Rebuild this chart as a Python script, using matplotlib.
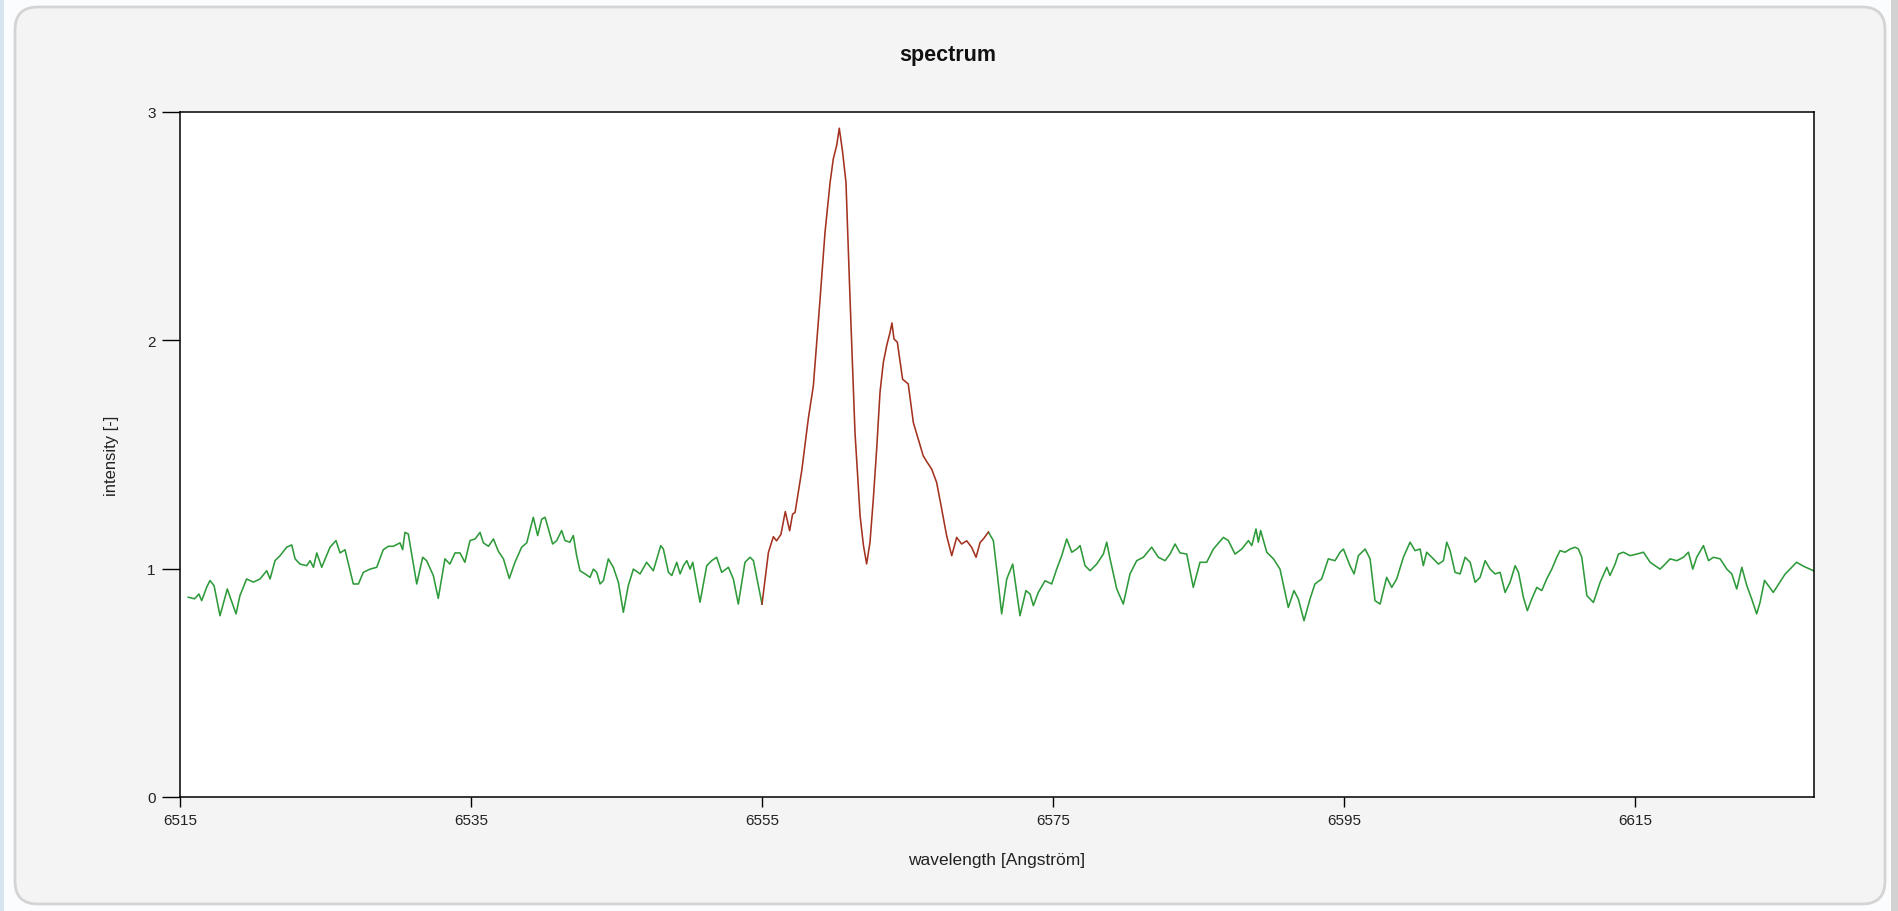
import matplotlib
matplotlib.use("Agg")
import matplotlib.pyplot as plt
from matplotlib.patches import FancyBboxPatch, Rectangle

plt.rcParams['font.family'] = ['Liberation Sans', 'DejaVu Sans']

# ---------------- data ----------------
title = "spectrum"
x_label = "wavelength [Angström]"
y_label = "intensity [-]"
x_ticks = [6515, 6535, 6555, 6575, 6595, 6615]
y_ticks = [0, 1, 2, 3]
x_range = (6515, 6627.3)
y_range = (0, 3)

# continuum (green) left of the emission line
green_left_wl = [6515.57, 6516.0, 6516.3, 6516.49, 6516.83, 6517.06, 6517.34, 6517.75, 6518.25, 6518.85,
                 6519.12, 6519.58, 6520.04, 6520.5, 6520.96, 6521.19, 6521.53, 6521.88, 6522.33, 6522.68,
                 6522.91, 6523.25, 6523.71, 6523.94, 6524.17, 6524.40, 6524.74, 6525.31, 6525.72, 6526.0,
                 6526.34, 6526.91, 6527.26, 6527.6, 6528.06, 6528.52, 6528.97, 6529.32, 6529.66, 6530.12,
                 6530.3, 6530.46, 6530.69, 6531.27, 6531.68, 6531.95, 6532.41, 6532.75, 6533.21, 6533.55,
                 6533.9, 6534.24, 6534.58, 6534.93, 6535.28, 6535.62, 6535.85, 6536.2, 6536.54, 6536.88,
                 6537.23, 6537.63, 6538.02, 6538.48, 6538.83, 6539.28, 6539.58, 6539.86, 6540.09, 6540.32,
                 6540.61, 6540.89, 6541.23, 6541.46, 6541.80, 6542.03, 6542.26, 6542.49, 6542.84, 6543.18,
                 6543.41, 6543.64, 6543.87, 6544.1, 6544.44, 6544.78, 6545.13, 6545.47, 6545.81, 6546.16,
                 6546.62, 6547.07, 6547.53, 6548.04, 6548.22, 6548.57, 6548.8, 6549.14, 6549.37, 6549.60,
                 6549.83, 6550.06, 6550.24, 6550.74, 6551.2, 6551.54, 6551.88, 6552.23, 6552.69, 6553.03,
                 6553.37, 6553.83, 6554.18, 6554.41, 6555.0]
green_left_int = [0.875, 0.868, 0.889, 0.860, 0.918, 0.948, 0.926, 0.794, 0.911, 0.802,
                  0.882, 0.955, 0.941, 0.955, 0.991, 0.955, 1.035, 1.057, 1.094, 1.104,
                  1.043, 1.020, 1.013, 1.035, 1.006, 1.069, 1.006, 1.094, 1.123, 1.069,
                  1.083, 0.933, 0.933, 0.984, 0.998, 1.006, 1.083, 1.098, 1.098, 1.113,
                  1.083, 1.159, 1.152, 0.933, 1.050, 1.035, 0.970, 0.870, 1.043, 1.020,
                  1.069, 1.069, 1.028, 1.123, 1.130, 1.159, 1.113, 1.098, 1.130, 1.076,
                  1.043, 0.957, 1.028, 1.094, 1.113, 1.225, 1.145, 1.217, 1.225, 1.174,
                  1.108, 1.123, 1.167, 1.123, 1.116, 1.145, 1.057, 0.991, 0.977, 0.962,
                  0.998, 0.984, 0.933, 0.948, 1.043, 1.006, 0.940, 0.809, 0.926, 0.998,
                  0.977, 1.028, 0.991, 1.101, 1.086, 0.984, 0.970, 1.028, 0.977, 1.013,
                  1.035, 0.998, 1.028, 0.853, 1.013, 1.035, 1.050, 0.984, 1.006, 0.955,
                  0.845, 1.028, 1.050, 1.035, 0.845]

# emission line (red)
red_wl = [6555.0, 6555.44, 6555.78, 6556.0, 6556.3, 6556.6, 6556.9, 6557.1, 6557.27, 6557.73,
          6558.18, 6558.53, 6558.99, 6559.33, 6559.68, 6559.9, 6560.13, 6560.31, 6560.54, 6560.77,
          6561.05, 6561.39, 6561.74, 6561.97, 6562.19, 6562.42, 6562.65, 6562.88, 6563.11, 6563.34,
          6563.57, 6563.8, 6563.93, 6564.07, 6564.3, 6564.66, 6565.05, 6565.4, 6565.74, 6566.08,
          6566.36, 6566.66, 6567.0, 6567.35, 6567.69, 6568.04, 6568.38, 6568.72, 6569.07, 6569.41,
          6569.71, 6569.99, 6570.21, 6570.56]
red_int = [0.845, 1.071, 1.140, 1.122, 1.150, 1.250, 1.166, 1.239, 1.246, 1.429,
           1.656, 1.802, 2.181, 2.473, 2.692, 2.795, 2.853, 2.929, 2.824, 2.692,
           2.181, 1.597, 1.232, 1.102, 1.021, 1.115, 1.305, 1.524, 1.773, 1.904,
           1.977, 2.035, 2.076, 2.006, 1.992, 1.830, 1.809, 1.640, 1.567, 1.494,
           1.465, 1.436, 1.378, 1.261, 1.144, 1.057, 1.137, 1.108, 1.122, 1.093,
           1.050, 1.115, 1.130, 1.160]

# continuum (green) right of the emission line
green_right_wl = [6570.56, 6570.9, 6571.18, 6571.47, 6571.82, 6572.23, 6572.73, 6573.14, 6573.42, 6573.65,
                  6573.99, 6574.45, 6574.91, 6575.25, 6575.6, 6575.94, 6576.29, 6576.63, 6576.86, 6577.2,
                  6577.55, 6578.0, 6578.46, 6578.69, 6578.92, 6579.38, 6579.83, 6580.29, 6580.75, 6581.21,
                  6581.78, 6582.24, 6582.7, 6583.04, 6583.39, 6583.73, 6584.19, 6584.64, 6585.1, 6585.56,
                  6586.02, 6586.71, 6587.05, 6587.51, 6587.97, 6588.43, 6588.66, 6588.95, 6589.11, 6589.27,
                  6589.69, 6590.15, 6590.6, 6591.17, 6591.56, 6591.86, 6592.25, 6592.66, 6593.0, 6593.46,
                  6593.92, 6594.38, 6594.73, 6594.96, 6595.41, 6595.69, 6595.99, 6596.45, 6596.79, 6597.13,
                  6597.48, 6597.93, 6598.28, 6598.62, 6599.08, 6599.54, 6599.88, 6600.23, 6600.45, 6600.68,
                  6601.03, 6601.49, 6601.83, 6602.06, 6602.29, 6602.63, 6602.98, 6603.32, 6603.67, 6604.01,
                  6604.35, 6604.7, 6605.04, 6605.38, 6605.73, 6606.07, 6606.41, 6606.76, 6606.99, 6607.33,
                  6607.6, 6607.9, 6608.25, 6608.59, 6608.93, 6609.28, 6609.62, 6609.85, 6610.19, 6610.54,
                  6610.88, 6611.11, 6611.34, 6611.69, 6612.14, 6612.6, 6613.06, 6613.28, 6613.63, 6613.86,
                  6614.2, 6614.66, 6615.12, 6615.58, 6616.04, 6616.38, 6616.72, 6617.07, 6617.41, 6617.87,
                  6618.33, 6618.67, 6618.97, 6619.24, 6619.7, 6620.05, 6620.39, 6620.85, 6621.31, 6621.65,
                  6621.99, 6622.34, 6622.68, 6623.02, 6623.36, 6623.59, 6623.9, 6624.5, 6625.3, 6626.1,
                  6626.6, 6627.3]
green_right_int = [1.160, 1.123, 0.970, 0.802, 0.955, 1.020, 0.794, 0.904, 0.889, 0.838,
                   0.896, 0.947, 0.933, 0.998, 1.057, 1.130, 1.072, 1.086, 1.101, 1.013,
                   0.991, 1.020, 1.064, 1.116, 1.043, 0.911, 0.845, 0.977, 1.035, 1.050,
                   1.094, 1.050, 1.035, 1.064, 1.108, 1.069, 1.064, 0.918, 1.028, 1.028,
                   1.086, 1.137, 1.123, 1.064, 1.086, 1.123, 1.101, 1.174, 1.116, 1.167,
                   1.072, 1.043, 0.998, 0.830, 0.904, 0.867, 0.772, 0.867, 0.933, 0.955,
                   1.043, 1.035, 1.072, 1.086, 1.013, 0.977, 1.057, 1.086, 1.043, 0.860,
                   0.845, 0.962, 0.918, 0.955, 1.050, 1.116, 1.079, 1.086, 1.013, 1.072,
                   1.050, 1.020, 1.035, 1.116, 1.079, 0.984, 0.977, 1.050, 1.028, 0.940,
                   0.962, 1.035, 0.998, 0.977, 0.984, 0.896, 0.940, 1.013, 0.984, 0.874,
                   0.816, 0.867, 0.918, 0.904, 0.955, 0.998, 1.050, 1.079, 1.072, 1.086,
                   1.094, 1.086, 1.050, 0.882, 0.852, 0.940, 1.006, 0.970, 1.020, 1.064,
                   1.072, 1.057, 1.064, 1.072, 1.028, 1.013, 0.998, 1.020, 1.043, 1.035,
                   1.050, 1.072, 0.998, 1.050, 1.101, 1.035, 1.050, 1.043, 0.998, 0.977,
                   0.911, 1.006, 0.926, 0.867, 0.802, 0.852, 0.949, 0.896, 0.975, 1.028,
                   1.010, 0.990]

# ---------------- figure ----------------
W, H = 1898, 912
fig = plt.figure(figsize=(W / 100, H / 100), dpi=100, facecolor='#fbfcfd')

# window chrome: left blue strip, rounded gray panel, right bar
fig.patches.append(Rectangle((0, 0), 4 / W, 1, transform=fig.transFigure,
                             facecolor='#d6e4f2', edgecolor='none', zorder=-2))
fig.patches.append(Rectangle((1891 / W, 0), 7 / W, 1, transform=fig.transFigure,
                             facecolor='#d2d2d2', edgecolor='none', zorder=-2))
panel = FancyBboxPatch((15 / W, 7 / H), 1870 / W, 897 / H,
                       boxstyle="round,pad=0,rounding_size=0.012",
                       transform=fig.transFigure, facecolor='#f4f4f4',
                       edgecolor='#d4d4d4', linewidth=2.0, zorder=-1,
                       mutation_aspect=W / H)
fig.patches.append(panel)

ax = fig.add_axes([180 / W, 1 - 798 / H, (1814 - 180) / W, (798 - 113) / H])
ax.set_zorder(2)
ax.set_facecolor('white')

line_w = 1.15
ax.plot(green_left_wl, green_left_int, color='#2e9a3a', lw=line_w)
ax.plot(green_right_wl, green_right_int, color='#2e9a3a', lw=line_w)
ax.plot(red_wl, red_int, color='#a3321f', lw=line_w)

ax.set_xlim(*x_range)
ax.set_ylim(*y_range)
ax.set_xticks(x_ticks)
ax.set_yticks(y_ticks)
ax.set_xticklabels([str(t) for t in x_ticks])
ax.set_yticklabels([str(t) for t in y_ticks])
ax.tick_params(axis='x', direction='out', length=7.2, width=1.0, colors='black',
               labelsize=11, labelcolor='#222222', pad=4.5)
ax.tick_params(axis='y', direction='out', length=13, width=1.0, colors='black',
               labelsize=11, labelcolor='#222222', pad=4.5)
for s in ax.spines.values():
    s.set_linewidth(1.1)
    s.set_color('black')

ax.set_xlabel(x_label, fontsize=12.5, color='#222222', labelpad=18)
ax.set_ylabel(y_label, fontsize=12, color='#222222', labelpad=20)
fig.text(948 / W, 1 - 56 / H, title, ha='center', va='center',
         fontsize=15.5, fontweight='bold', color='#111111')

fig.savefig('out.png', dpi=100, facecolor=fig.get_facecolor())
